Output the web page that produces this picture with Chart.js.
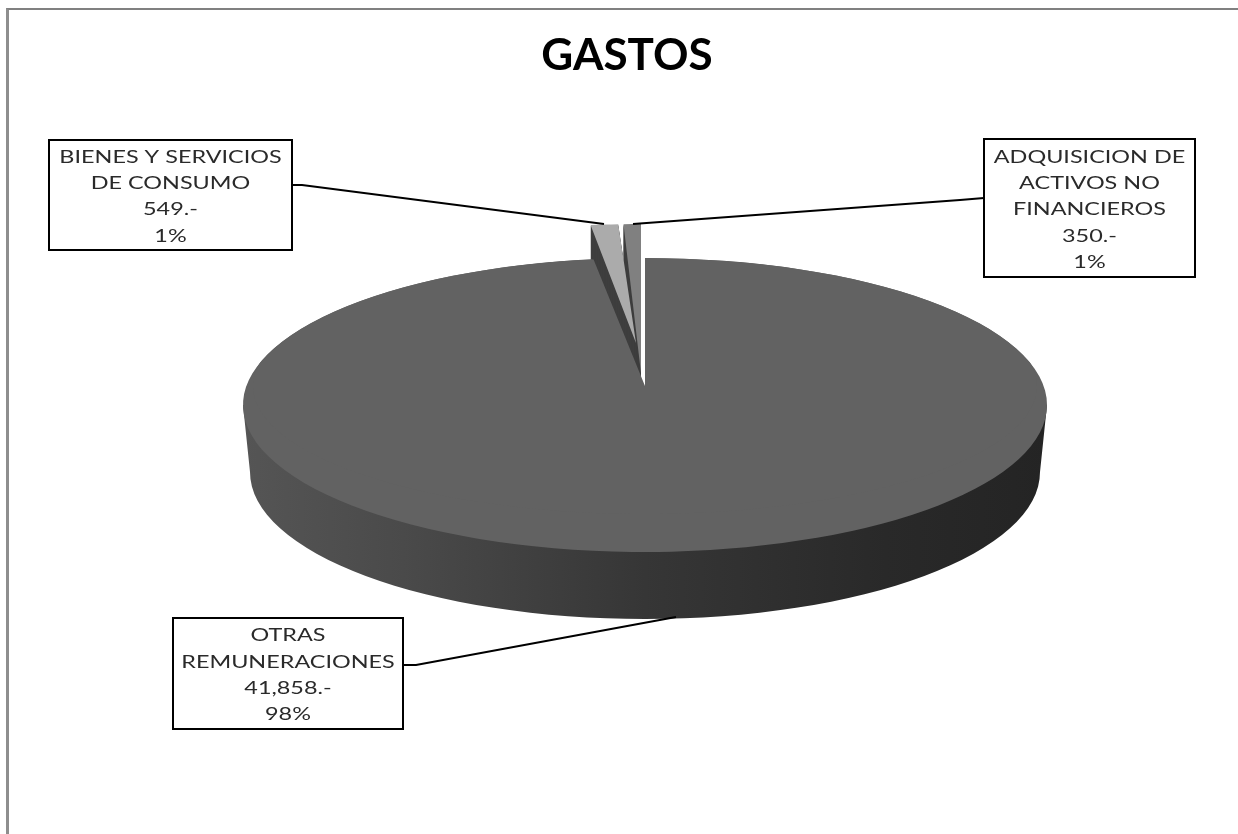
<!DOCTYPE html>
<html>
<head>
<meta charset="utf-8">
<title>GASTOS</title>
<script src="https://cdn.jsdelivr.net/npm/chart.js@4"></script>
<style>
  html, body { margin: 0; padding: 0; background: #fff; overflow: hidden; }
  #frame { position: absolute; left: 6px; top: 8px; right: 0; bottom: 0; border-top: 2px solid #808080; border-left: 3px solid #8e8e8e; }
  #gastos { position: absolute; left: 0; top: 0; }
</style>
</head>
<body>
<div id="frame"></div>
<canvas id="gastos" width="1238" height="834"></canvas>
<script>
// data
const categories = ['OTRAS REMUNERACIONES', 'BIENES Y SERVICIOS DE CONSUMO', 'ADQUISICION DE ACTIVOS NO FINANCIEROS'];
const values = [41858, 549, 350];
const sliceColors = ['#626262', '#ababab', '#808080'];

// where each slice lands on the page: the 3D look of the original is faked with these
const mainFrames = [
    { cx: 645, cy: 405, rx: 402, ry: 147 },
    { cx: 645, cy: 386, rx: 392, ry: 128 }
];
const smallFrames = {
    1: { cx: 636, cy: 343, rx: 345, ry: 119 },
    2: { cx: 641, cy: 373, rx: 340, ry: 149 }
};
const DEPTH = 67;
const FACE_COLOR = '#3f3f3f';

const labelBoxes = [
    { i: 0, lines: ['OTRAS', 'REMUNERACIONES'], x: 173, y: 618, w: 230, h: 111, leader: [[403, 665], [416, 665], [676, 617]] },
    { i: 1, lines: ['BIENES Y SERVICIOS', 'DE CONSUMO'], x: 49, y: 140, w: 243, h: 110, leader: [[292, 185], [302, 185], [604, 224]] },
    { i: 2, lines: ['ADQUISICION DE', 'ACTIVOS NO', 'FINANCIEROS'], x: 984, y: 139, w: 211, h: 138, leader: [[984, 198], [960, 200], [633, 224]] }
];

function withFrame(ctx, arc, f, fn) {
    ctx.save();
    ctx.translate(f.cx, f.cy);
    ctx.scale(f.rx / arc.outerRadius, f.ry / arc.outerRadius);
    ctx.translate(-arc.x, -arc.y);
    fn();
    ctx.restore();
}

function drawSmallSlice(ctx, arc, f) {
    // side wall, swept down from the top face
    for (let k = DEPTH; k > 0; k--) {
        withFrame(ctx, arc, { ...f, cy: f.cy + k }, () => {
            ctx.beginPath();
            ctx.moveTo(arc.x, arc.y);
            ctx.arc(arc.x, arc.y, arc.outerRadius, arc.startAngle, arc.endAngle);
            ctx.closePath();
            ctx.fillStyle = FACE_COLOR;
            ctx.fill();
        });
    }
    withFrame(ctx, arc, f, () => arc.draw(ctx));
}

function drawRim(ctx) {
    const top = mainFrames[0];
    const g = ctx.createLinearGradient(top.cx - top.rx, 0, top.cx + top.rx, 0);
    g.addColorStop(0, '#555555');
    g.addColorStop(0.2, '#4a4a4a');
    g.addColorStop(0.5, '#363636');
    g.addColorStop(0.8, '#292929');
    g.addColorStop(1, '#242424');
    ctx.beginPath();
    ctx.moveTo(top.cx - top.rx, top.cy);
    ctx.lineTo(top.cx + top.rx, top.cy);
    ctx.ellipse(top.cx, top.cy + DEPTH, top.rx - 7, top.ry, 0, 0, Math.PI, false);
    ctx.closePath();
    ctx.fillStyle = g;
    ctx.fill();
}

function drawMainSlice(ctx, arc) {
    const outer = mainFrames[0];
    withFrame(ctx, arc, outer, () => arc.draw(ctx));
    // second pass narrows the cut towards the real apex, kept inside the outer ellipse
    ctx.save();
    ctx.beginPath();
    ctx.ellipse(outer.cx, outer.cy, outer.rx, outer.ry, 0, 0, Math.PI * 2);
    ctx.clip();
    withFrame(ctx, arc, mainFrames[1], () => arc.draw(ctx));
    ctx.restore();
}

const pie3d = {
    id: 'pie3d',
    beforeDatasetDraw(chart, args) {
        const ctx = chart.ctx;
        const arcs = args.meta.data;
        drawRim(ctx);
        drawSmallSlice(ctx, arcs[2], smallFrames[2]);
        drawSmallSlice(ctx, arcs[1], smallFrames[1]);
        drawMainSlice(ctx, arcs[0]);
        return false;
    }
};

const calloutLabels = {
    id: 'calloutLabels',
    afterDraw(chart) {
        const ctx = chart.ctx;
        const total = values.reduce((a, b) => a + b, 0);
        const lineH = 26.3;
        labelBoxes.forEach(b => {
            const lines = [
                ...b.lines,
                values[b.i].toLocaleString('en-US') + '.-',
                Math.round(values[b.i] / total * 100) + '%'
            ];
            ctx.save();
            ctx.strokeStyle = '#000';
            ctx.lineWidth = 2;
            ctx.beginPath();
            b.leader.forEach((p, n) => n ? ctx.lineTo(p[0], p[1]) : ctx.moveTo(p[0], p[1]));
            ctx.stroke();
            ctx.fillStyle = '#fff';
            ctx.fillRect(b.x, b.y, b.w, b.h);
            ctx.strokeRect(b.x, b.y, b.w, b.h);

            const startY = b.y + b.h / 2 - (lines.length - 1) * lineH / 2 + 1.5;
            ctx.fillStyle = '#2a2a2a';
            ctx.font = '18px Lato';
            ctx.textAlign = 'center';
            ctx.textBaseline = 'middle';
            lines.forEach((t, n) => {
                ctx.save();
                ctx.translate(b.x + b.w / 2, startY + n * lineH);
                ctx.scale(1.3, 1);
                ctx.fillText(t, 0, 0);
                ctx.restore();
            });
            ctx.restore();
        });
    }
};

new Chart(document.getElementById('gastos'), {
    type: 'pie',
    data: {
        labels: categories,
        datasets: [{
            data: values,
            backgroundColor: sliceColors,
            borderWidth: 0
        }]
    },
    options: {
        responsive: false,
        animation: false,
        layout: { padding: { left: 16, top: 29 } },
        plugins: {
            legend: { display: false },
            tooltip: { enabled: false },
            title: {
                display: true,
                text: 'GASTOS',
                color: '#000',
                font: { family: 'Lato', size: 44, weight: 'bold' },
                padding: 0
            }
        }
    },
    plugins: [pie3d, calloutLabels]
});
</script>
</body>
</html>
